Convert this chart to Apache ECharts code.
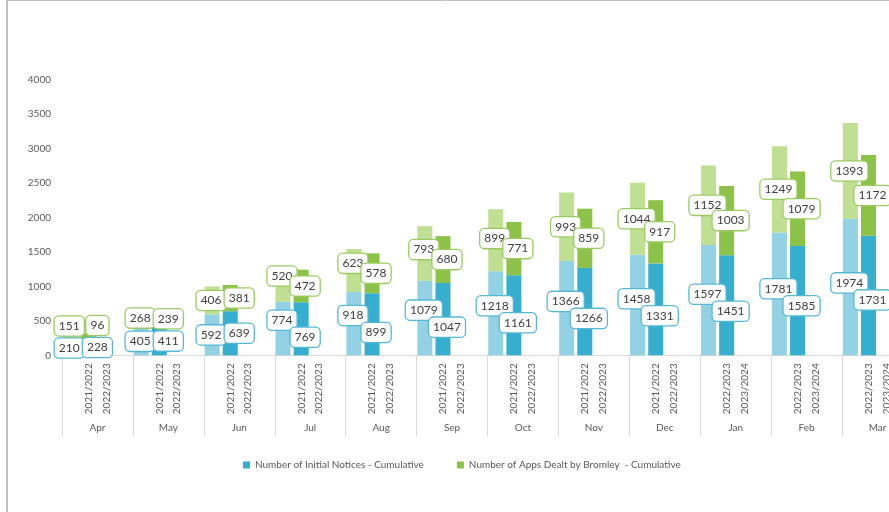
<!DOCTYPE html>
<html>
<head>
<meta charset="utf-8">
<script src="https://cdn.jsdelivr.net/npm/echarts@6/dist/echarts.min.js"></script>
<style>
html,body{margin:0;padding:0;background:#fff;}
#chart{width:889px;height:512px;}
</style>
</head>
<body>
<div id="chart"></div>
<script>
// ---- data ----
const months = ['Apr','May','Jun','Jul','Aug','Sep','Oct','Nov','Dec','Jan','Feb','Mar'];
const yearFirst  = ['2021/2022','2021/2022','2021/2022','2021/2022','2021/2022','2021/2022','2021/2022','2021/2022','2021/2022','2022/2023','2022/2023','2022/2023'];
const yearSecond = ['2022/2023','2022/2023','2022/2023','2022/2023','2022/2023','2022/2023','2022/2023','2022/2023','2022/2023','2023/2024','2023/2024','2023/2024'];
const initialFirst  = [210, 405, 592, 774, 918, 1079, 1218, 1366, 1458, 1597, 1781, 1974];
const appsFirst     = [151, 268, 406, 520, 623, 793, 899, 993, 1044, 1152, 1249, 1393];
const initialSecond = [228, 411, 639, 769, 899, 1047, 1161, 1266, 1331, 1451, 1585, 1731];
const appsSecond    = [96, 239, 381, 472, 578, 680, 771, 859, 917, 1003, 1079, 1172];
const seriesNames = ['Number of Initial Notices - Cumulative', 'Number of Apps Dealt by Bromley  - Cumulative'];
const yTicks = { min: 0, max: 4000, interval: 500 };

// ---- styles ----
const FONT = 'Lato, "Liberation Sans", sans-serif';
const GRAY = '#595959';
const C = { lb: '#92D2E4', db: '#35AECF', lg: '#BFDF93', dg: '#8CC247', bBorder: '#56B8D6', gBorder: '#9BCB60' };

const yearAxisData = [];
months.forEach((m, i) => { yearAxisData.push('', yearFirst[i], yearSecond[i], ''); });

// label layout: centre of each segment, with simple overlap avoidance
function labelShift(p) {
  const s = p.seriesIndex, i = p.dataIndex, r = p.rect;
  const top = Math.min(r.y, r.y + r.height), h = Math.abs(r.height);
  const bottom = top + h;
  const vals = [initialFirst[i], appsFirst[i], initialSecond[i], appsSecond[i]];
  const k = h / vals[s];
  const base = s === 1 ? vals[0] : (s === 3 ? vals[2] : 0);
  const zeroY = bottom + base * k;
  const Y = v => zeroY - v * k;
  const BSEP = 17, GSEP = 10, STACKSEP = 22;
  let lb = Y(vals[0] / 2), db = Y(vals[2] / 2);
  const small = Math.min(lb, db) > zeroY - 25;
  if (!small && Math.abs(lb - db) < BSEP) {
    const need = (BSEP - Math.abs(lb - db)) / 2;
    if (lb <= db) { lb -= need; db += need; } else { db -= need; lb += need; }
  }
  let lg = Math.min(Y(vals[0] + vals[1] / 2), lb - STACKSEP);
  let dg = Math.min(Y(vals[2] + vals[3] / 2), db - STACKSEP);
  if (!small && Math.abs(lg - dg) < GSEP) { if (lg <= dg) lg = dg - GSEP; else dg = lg - GSEP; }
  const ys = [lb, lg, db, dg];
  const centre = top + h / 2;
  return { dx: s < 2 ? -1 : (small ? 9 : 4), dy: ys[s] - centre };
}

function lbl(border) {
  return {
    show: true, position: 'inside', formatter: '{c}',
    fontFamily: FONT, fontSize: 12, color: '#404040',
    backgroundColor: '#ffffff', borderColor: border, borderWidth: 1.3, borderRadius: 4,
    padding: [4, 4, 3, 4]
  };
}

const barCommon = { type: 'bar', barWidth: 15, barGap: '20.9%', xAxisIndex: 0, yAxisIndex: 0, labelLayout: labelShift, emphasis: { disabled: true } };

const chart = echarts.init(document.getElementById('chart'), null, { renderer: 'canvas' });
chart.setOption({
  animation: false,
  backgroundColor: '#ffffff',
  textStyle: { fontFamily: FONT },
  grid: { left: 62, top: 79.3, width: 851, height: 276, outerBoundsMode: 'none', containLabel: false },
  legend: {
    data: seriesNames, left: 238, top: 455, itemWidth: 7, itemHeight: 7, itemGap: 33, icon: 'rect',
    textStyle: { fontFamily: FONT, fontSize: 10, color: GRAY }
  },
  xAxis: [
    {
      type: 'category', data: months, position: 'bottom',
      axisLine: { show: true, lineStyle: { color: '#d9d9d9', width: 1 } },
      axisTick: { show: true, interval: 0, length: 81, lineStyle: { color: '#d9d9d9', width: 1 } },
      axisLabel: { interval: 0, margin: 67, fontFamily: FONT, fontSize: 10, color: GRAY },
      splitLine: { show: false }
    },
    {
      type: 'category', data: yearAxisData, position: 'bottom', gridIndex: 0,
      axisLine: { show: false }, axisTick: { show: false },
      axisLabel: { interval: 0, rotate: 90, margin: 8, fontFamily: FONT, fontSize: 10, color: GRAY },
      splitLine: { show: false }
    }
  ],
  yAxis: {
    type: 'value', min: yTicks.min, max: yTicks.max, interval: yTicks.interval,
    axisLine: { show: false }, axisTick: { show: false }, splitLine: { show: false },
    axisLabel: { margin: 11, fontFamily: FONT, fontSize: 10, color: GRAY, formatter: v => String(v) }
  },
  series: [
    Object.assign({}, barCommon, { name: 'Initial (first year)', stack: 'a', data: initialFirst, itemStyle: { color: C.lb }, label: lbl(C.bBorder) }),
    Object.assign({}, barCommon, { name: 'Apps (first year)', stack: 'a', data: appsFirst, itemStyle: { color: C.lg }, label: lbl(C.gBorder) }),
    Object.assign({}, barCommon, { name: seriesNames[0], stack: 'b', data: initialSecond, itemStyle: { color: C.db }, label: lbl(C.bBorder) }),
    Object.assign({}, barCommon, { name: seriesNames[1], stack: 'b', data: appsSecond, itemStyle: { color: C.dg }, label: lbl(C.gBorder) }),
    { type: 'bar', name: 'spacer1', stack: 'c', barWidth: 15, barGap: '20.9%', data: months.map(() => '-'), itemStyle: { color: 'transparent' }, silent: true },
    { type: 'bar', name: 'spacer2', stack: 'd', barWidth: 15, barGap: '20.9%', data: months.map(() => '-'), itemStyle: { color: 'transparent' }, silent: true }
  ],
  graphic: [
    { type: 'line', shape: { x1: 7, y1: 0, x2: 7, y2: 512 }, style: { stroke: '#c0c0c0', lineWidth: 2 }, silent: true },
    { type: 'line', shape: { x1: 6, y1: 0.5, x2: 889, y2: 0.5 }, style: { stroke: '#c0c0c0', lineWidth: 1 }, silent: true }
  ]
});
</script>
</body>
</html>
